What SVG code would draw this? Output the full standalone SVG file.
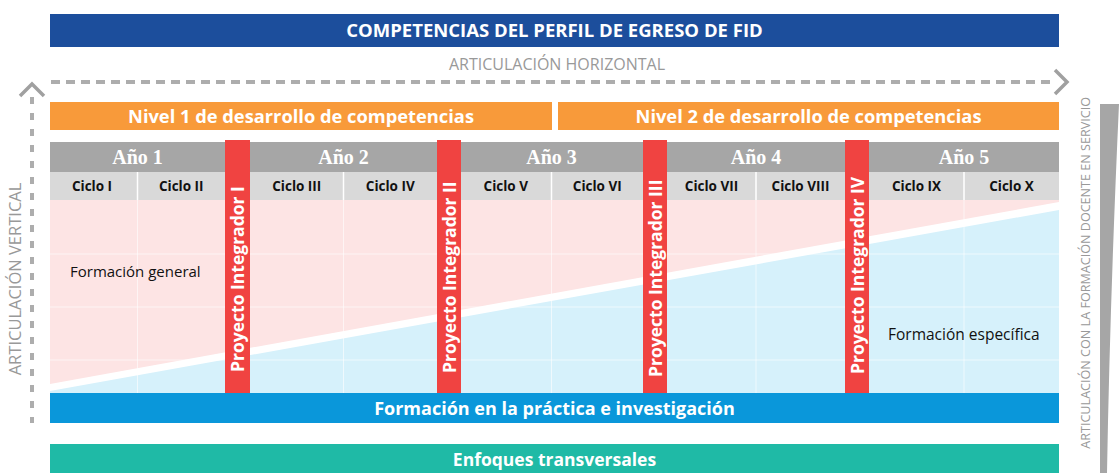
<svg xmlns="http://www.w3.org/2000/svg" width="1119" height="473" viewBox="0 0 1119 473">
<style>
text{font-family:"Open Sans","Noto Sans","Liberation Sans",sans-serif}
.wb{fill:#fff;font-weight:700}
.lbl{fill:#999;font-weight:400}
.year{fill:#fff;font-family:"Liberation Serif","DejaVu Serif",serif;font-weight:700;font-size:20px}
.ciclo{fill:#111;font-weight:700;font-size:13.5px}
.red{fill:#f04341}
.pi{font-size:17.5px}
.grid{stroke:#fff;stroke-opacity:.6;stroke-width:1}
.dash{stroke:#adadad;stroke-width:4;fill:none}
.chev{stroke:#a0a0a0;stroke-width:3.5;fill:none;stroke-linejoin:miter}
</style>
<rect width="1119" height="473" fill="#fff"/>

<g id="banner">
<rect x="50" y="14" width="1009" height="33" fill="#1c4e9c"/>
<text class="wb" x="554.5" y="37" font-size="18.5" text-anchor="middle">COMPETENCIAS DEL PERFIL DE EGRESO DE FID</text>
</g>

<g id="label-horizontal">
<text class="lbl" x="557" y="70" font-size="16" text-anchor="middle">ARTICULACIÓN HORIZONTAL</text>
</g>
<g id="label-vertical">
<text class="lbl" transform="translate(21,279) rotate(-90)" font-size="16.5" text-anchor="middle">ARTICULACIÓN VERTICAL</text>
</g>

<g id="connectors">
<line class="dash" x1="51" y1="82" x2="1054" y2="82" stroke-dasharray="9 6"/>
<polyline class="chev" points="1055,70 1067,82 1055,94"/>
<line class="dash" x1="32" y1="97" x2="32" y2="423" stroke-dasharray="7 9"/>
<polyline class="chev" points="20,96 32,84 44,96"/>
</g>

<g id="nivel1">
<rect x="50" y="102" width="502" height="28" fill="#f89a3a"/>
<text class="wb" x="301" y="123" font-size="18.3" text-anchor="middle">Nivel 1 de desarrollo de competencias</text>
</g>
<g id="nivel2">
<rect x="558" y="102" width="501" height="28" fill="#f89a3a"/>
<text class="wb" x="808.5" y="123" font-size="18.3" text-anchor="middle">Nivel 2 de desarrollo de competencias</text>
</g>

<g id="areas">
<rect x="50" y="200" width="1009" height="193" fill="#fde4e4"/>
<polygon points="50,384 1059,202 1059,393 50,393" fill="#fff"/>
<polygon points="50,391 1059,210 1059,393 50,393" fill="#d6f1fb"/>
<g class="grid">
<line x1="50" y1="254" x2="1059" y2="254"/>
<line x1="50" y1="307" x2="1059" y2="307"/>
<line x1="50" y1="360" x2="1059" y2="360"/>
<line x1="137.5" y1="200" x2="137.5" y2="393"/>
<line x1="343.5" y1="200" x2="343.5" y2="393"/>
<line x1="551.5" y1="200" x2="551.5" y2="393"/>
<line x1="756" y1="200" x2="756" y2="393"/>
<line x1="964" y1="200" x2="964" y2="393"/>
</g>
</g>
<g id="formacion-general">
<text x="70" y="277" font-size="15" fill="#111">Formación general</text>
</g>
<g id="formacion-especifica">
<text x="888" y="340" font-size="15.5" fill="#111">Formación específica</text>
</g>

<g id="years">
<rect x="50" y="142" width="1009" height="30" fill="#a6a6a6"/>
<rect x="50" y="172" width="1009" height="28" fill="#d9d9d9"/>
<g stroke="#fff" stroke-width="1.5">
<line x1="137.5" y1="172" x2="137.5" y2="200"/>
<line x1="343.5" y1="172" x2="343.5" y2="200"/>
<line x1="551.5" y1="172" x2="551.5" y2="200"/>
<line x1="756" y1="172" x2="756" y2="200"/>
<line x1="964" y1="172" x2="964" y2="200"/>
</g>
</g>
<g id="anio1"><text class="year" x="137.5" y="164" text-anchor="middle">Año 1</text>
<text class="ciclo" x="92" y="191" text-anchor="middle">Ciclo I</text>
<text class="ciclo" x="181.25" y="191" text-anchor="middle">Ciclo II</text></g>
<g id="anio2"><text class="year" x="343.5" y="164" text-anchor="middle">Año 2</text>
<text class="ciclo" x="296.75" y="191" text-anchor="middle">Ciclo III</text>
<text class="ciclo" x="390.25" y="191" text-anchor="middle">Ciclo IV</text></g>
<g id="anio3"><text class="year" x="551.5" y="164" text-anchor="middle">Año 3</text>
<text class="ciclo" x="505.75" y="191" text-anchor="middle">Ciclo V</text>
<text class="ciclo" x="597.25" y="191" text-anchor="middle">Ciclo VI</text></g>
<g id="anio4"><text class="year" x="756" y="164" text-anchor="middle">Año 4</text>
<text class="ciclo" x="711.5" y="191" text-anchor="middle">Ciclo VII</text>
<text class="ciclo" x="800.5" y="191" text-anchor="middle">Ciclo VIII</text></g>
<g id="anio5"><text class="year" x="964" y="164" text-anchor="middle">Año 5</text>
<text class="ciclo" x="916.5" y="191" text-anchor="middle">Ciclo IX</text>
<text class="ciclo" x="1011.5" y="191" text-anchor="middle">Ciclo X</text></g>

<g id="proyecto1"><rect class="red" x="225" y="140" width="25" height="253"/>
<text class="wb pi" transform="translate(244,372) rotate(-90)">Proyecto Integrador I</text></g>
<g id="proyecto2"><rect class="red" x="437" y="140" width="24" height="253"/>
<text class="wb pi" transform="translate(455.5,373) rotate(-90)">Proyecto Integrador II</text></g>
<g id="proyecto3"><rect class="red" x="643" y="140" width="24" height="253"/>
<text class="wb pi" transform="translate(661.5,377) rotate(-90)">Proyecto Integrador III</text></g>
<g id="proyecto4"><rect class="red" x="845" y="140" width="24" height="253"/>
<text class="wb pi" transform="translate(863.5,374) rotate(-90)">Proyecto Integrador IV</text></g>

<g id="practica">
<rect x="50" y="393" width="1009" height="30" fill="#0a97da"/>
<text class="wb" x="554.5" y="414.5" font-size="18" text-anchor="middle">Formación en la práctica e investigación</text>
</g>
<g id="enfoques">
<rect x="50" y="444" width="1009" height="29" fill="#1fbaa6"/>
<text class="wb" x="554.5" y="465.5" font-size="17.5" text-anchor="middle">Enfoques transversales</text>
</g>

<g id="servicio">
<text class="lbl" transform="translate(1090,97) rotate(-90)" font-size="12.6" text-anchor="end">ARTICULACIÓN CON LA FORMACIÓN DOCENTE EN SERVICIO</text>
<path d="M1100,104 L1119,104 Q1110,300 1107,473 L1100,473 Z" fill="#a6a6a6"/>
</g>
</svg>
